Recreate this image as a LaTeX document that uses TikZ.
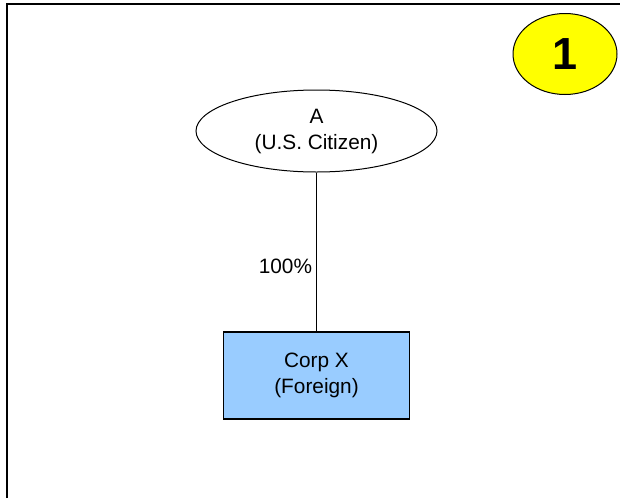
\documentclass[tikz,border=0pt]{standalone}
\usepackage{fontspec}
\setmainfont{Liberation Sans}
\usepackage{tikz}
\usetikzlibrary{shapes.geometric}
\usetikzlibrary{quotes}
\definecolor{corpblue}{HTML}{99CCFF}
\definecolor{badgeyellow}{HTML}{FFFF00}

\begin{document}
\begin{tikzpicture}[x=1pt,y=-1pt,
    every node/.style={font=\fontsize{20.8}{26}\selectfont},
    every edge quotes/.style={font=\fontsize{20.8}{26}\selectfont,inner sep=4pt}]

    \useasboundingbox (0,0) rectangle (620,498);
    \draw[line width=2.6pt] (7,498) -- (7,4) -- (620,4);

    \node[ellipse,draw,fill=badgeyellow,line width=1pt,minimum width=104pt,minimum height=81pt,inner sep=0pt,font=\fontsize{45}{45}\bfseries\selectfont]  (badge) at (565, 54)   {1};
    \node[ellipse,draw,line width=1pt,minimum width=241pt,minimum height=82pt,inner sep=0pt,align=center]  (a) at (316.5, 131)   {A\\(U.S. Citizen)};
    \node[rectangle,draw,fill=corpblue,line width=1.2pt,minimum width=186pt,minimum height=87pt,inner sep=0pt,align=center]  (x) at (316.5, 375.5)   {Corp X\\(Foreign)};

    \draw (a) edge["100\%" left, pos=0.59, line width=0.9pt]  (x);
  \end{tikzpicture}
\end{document}
